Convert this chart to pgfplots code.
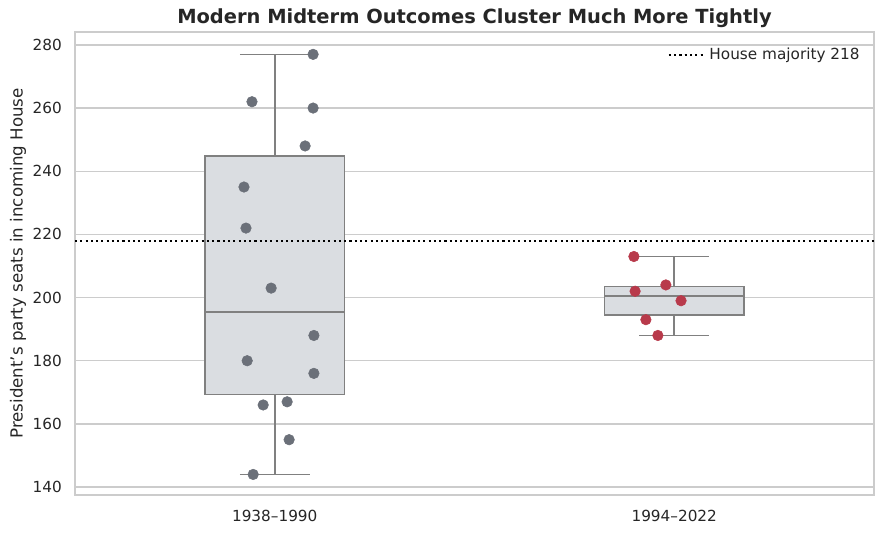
\documentclass[border=0pt]{standalone}
\usepackage{fontspec}
\setmainfont{DejaVu Sans}
\usepackage{pgfplots}
\pgfplotsset{compat=1.18}
\definecolor{gridc}{HTML}{CCCCCC}
\definecolor{boxfill}{HTML}{DADDE1}
\definecolor{boxedge}{HTML}{808080}
\definecolor{ptgray}{HTML}{6B7079}
\definecolor{ptred}{HTML}{B83A4B}
\definecolor{txt}{HTML}{262626}
\begin{document}
\begin{tikzpicture}
\useasboundingbox (-54pt,-28.08pt) rectangle (582.5pt,356.4pt);
\begin{axis}[
  scale only axis, width=575.3pt, height=333.4pt,
  xmin=-0.5, xmax=1.5, ymin=137.5, ymax=284.1,
  xtick={0,1}, xticklabels={1938--1990, 1994--2022},
  ytick={140,160,...,280},
  ymajorgrids, grid style={gridc, line width=0.9pt},
  axis line style={gridc, line width=1.25pt},
  major tick length=0pt,
  tick label style={font=\fontsize{11}{13}\selectfont, text=txt},
  /pgf/number format/assume math mode=true,
  xticklabel style={yshift=-7.5pt},
  yticklabel style={xshift=-6pt},
  ylabel={President’s party seats in incoming House},
  ylabel style={font=\fontsize{12}{14}\selectfont, text=txt, at={(axis description cs:-0.0713,0.5)}, anchor=center},
  title={Modern Midterm Outcomes Cluster Much More Tightly},
  title style={font=\bfseries\fontsize{14}{17}\selectfont, text=txt, at={(axis description cs:0.5,1)}, anchor=south, yshift=-6.4pt},
  legend style={at={(axis description cs:0.991,0.978)}, anchor=north east, draw=none, fill=none, font=\fontsize{11}{13}\selectfont, text=txt},
  legend cell align=left,
  legend image code/.code={\draw[#1] (0pt,0pt) -- (23pt,0pt); \path (0pt,0pt) -- (26.5pt,0pt);},
]
% group 1 box (1938-1990)
\addplot[forget plot, draw=boxedge, line width=1.1pt] coordinates {(0,144) (0,169.25)};
\addplot[forget plot, draw=boxedge, line width=1.1pt] coordinates {(0,244.75) (0,277)};
\addplot[forget plot, draw=boxedge, line width=1.1pt] coordinates {(-0.0875,144) (0.0875,144)};
\addplot[forget plot, draw=boxedge, line width=1.1pt] coordinates {(-0.0875,277) (0.0875,277)};
\addplot[forget plot, draw=boxedge, fill=boxfill, line width=1.1pt] coordinates {(-0.175,169.25) (0.175,169.25) (0.175,244.75) (-0.175,244.75)} -- cycle;
\addplot[forget plot, draw=boxedge, line width=1.1pt] coordinates {(-0.175,195.5) (0.175,195.5)};
% group 2 box (1994-2022)
\addplot[forget plot, draw=boxedge, line width=1.1pt] coordinates {(1,188) (1,194.5)};
\addplot[forget plot, draw=boxedge, line width=1.1pt] coordinates {(1,203.5) (1,213)};
\addplot[forget plot, draw=boxedge, line width=1.1pt] coordinates {(0.9125,188) (1.0875,188)};
\addplot[forget plot, draw=boxedge, line width=1.1pt] coordinates {(0.9125,213) (1.0875,213)};
\addplot[forget plot, draw=boxedge, fill=boxfill, line width=1.1pt] coordinates {(0.825,194.5) (1.175,194.5) (1.175,203.5) (0.825,203.5)} -- cycle;
\addplot[forget plot, draw=boxedge, line width=1.1pt] coordinates {(0.825,200.5) (1.175,200.5)};
% majority line
\addplot[black, line width=1.4pt, dash pattern=on 1.5pt off 2.3pt] coordinates {(-0.5,218) (1.5,218)};
\addlegendentry{House majority 218}
% points
\addplot[forget plot, only marks, mark=*, mark size=3.8pt, color=ptgray, mark options={draw=ptgray, fill=ptgray}] coordinates {
(0.096,277) (-0.057,262) (0.096,260) (0.076,248) (-0.077,235) (-0.072,222)
(-0.009,203) (0.098,188) (-0.069,180) (0.098,176) (-0.029,166) (0.031,167)
(0.036,155) (-0.054,144)};
\addplot[forget plot, only marks, mark=*, mark size=3.8pt, color=ptred, mark options={draw=ptred, fill=ptred}] coordinates {
(0.899,213) (0.979,204) (0.902,202) (1.017,199) (0.929,193) (0.959,188)};
\end{axis}
\end{tikzpicture}
\end{document}
